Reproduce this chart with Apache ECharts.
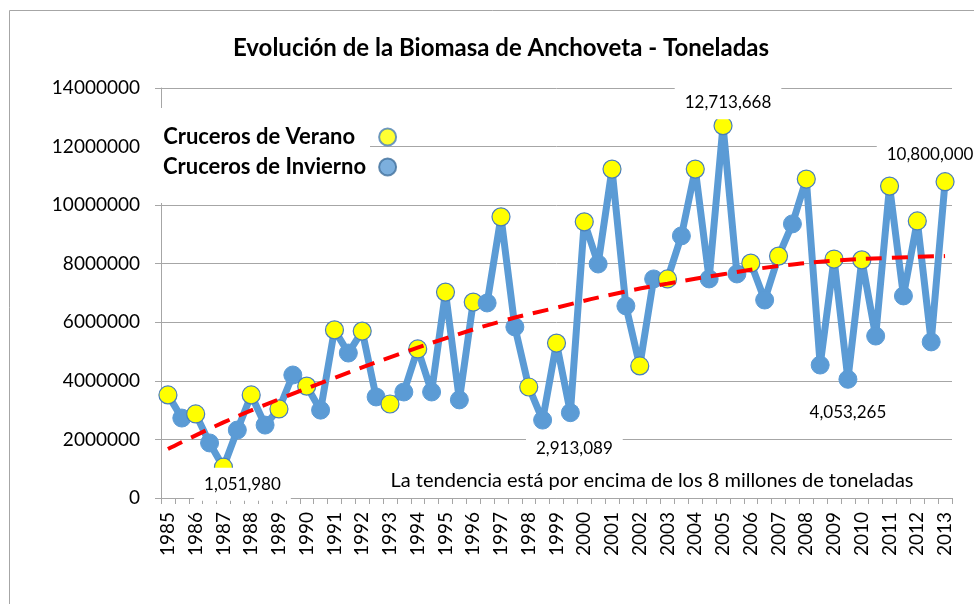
<!DOCTYPE html>
<html>
<head>
<meta charset="utf-8">
<title>Evolución de la Biomasa de Anchoveta</title>
<script src="https://cdn.jsdelivr.net/npm/echarts@6/dist/echarts.min.js"></script>
<style>
    html, body { margin: 0; padding: 0; background: #fff; }
    #chart { width: 974px; height: 604px; }
</style>
</head>
<body>
<div id="chart"></div>
<script>
var anios = ['1985', '1986', '1987', '1988', '1989', '1990', '1991', '1992', '1993', '1994',
    '1995', '1996', '1997', '1998', '1999', '2000', '2001', '2002', '2003', '2004',
    '2005', '2006', '2007', '2008', '2009', '2010', '2011', '2012', '2013'];

// cruceros de verano (un valor por año)
var verano = [3520000, 2870000, 1051980, 3520000, 3040000, 3820000, 5740000, 5700000, 3210000, 5090000,
    7030000, 6690000, 9600000, 3790000, 5290000, 9430000, 11230000, 4510000, 7480000, 11230000,
    12713668, 8020000, 8260000, 10890000, 8160000, 8130000, 10650000, 9460000, 10800000];

// cruceros de invierno (1985 - 2012)
var invierno = [2730000, 1880000, 2320000, 2490000, 4200000, 3000000, 4950000, 3450000, 3620000, 3620000,
    3350000, 6660000, 5840000, 2660000, 2913089, 7990000, 6560000, 7480000, 8950000, 7480000,
    7650000, 6760000, 9360000, 4540000, 4053265, 5530000, 6900000, 5330000];

// línea de tendencia leída cada 4 cruceros
var tendencia = [1670000, 2580000, 3370000, 4100000, 4800000, 5450000, 6030000, 6500000,
    6950000, 7320000, 7640000, 7920000, 8100000, 8200000, 8260000];

var yMax = 14000000;
var yPaso = 2000000;

var fuente = 'Lato, "Open Sans", sans-serif';
var azul = '#5B9BD5';
var amarillo = '#FFFF00';

var categorias = [];
var serie = [];
anios.forEach(function (anio, i) {
    categorias.push(anio);
    serie.push({ value: verano[i], itemStyle: { color: amarillo, borderColor: '#4A7EBB', borderWidth: 1.2 } });
    if (invierno[i] !== undefined) {
        categorias.push('');
        serie.push({ value: invierno[i], itemStyle: { color: azul, borderColor: azul, borderWidth: 1 } });
    }
});

// etiquetas con valor en algunos puntos
var destacados = { 4: [19, 17], 29: [4, 36], 40: [5, -23], 49: [0, 33], 56: [-15, -27] };
Object.keys(destacados).forEach(function (k) {
    serie[k].label = {
        show: true,
        position: 'inside',
        offset: destacados[k],
        formatter: function (p) { return echarts.format.addCommas(p.value); },
        fontFamily: fuente,
        fontSize: 17,
        color: '#000',
        backgroundColor: '#fff',
        padding: [8, 10]
    };
});

var chart = echarts.init(document.getElementById('chart'));
chart.setOption({
    animation: false,
    title: {
        text: 'Evolución de la Biomasa de Anchoveta - Toneladas',
        left: 496,
        textAlign: 'center',
        top: 31,
        textStyle: { fontFamily: fuente, fontWeight: 'bold', fontSize: 24, color: '#000' }
    },
    legend: {
        orient: 'vertical',
        left: 158,
        top: 121,
        align: 'right',
        itemGap: 8,
        itemWidth: 17,
        itemHeight: 17,
        icon: 'circle',
        textStyle: { fontFamily: fuente, fontWeight: 'bold', fontSize: 22, color: '#000' },
        data: [
            { name: 'Cruceros de Verano', textStyle: { padding: [0, 19, 0, 0] } },
            { name: 'Cruceros de Invierno', textStyle: { padding: [0, 8, 0, 0] } }
        ]
    },
    grid: { left: 161, right: 22, top: 88, bottom: 106 },
    xAxis: {
        type: 'category',
        data: categorias,
        boundaryGap: true,
        axisLine: { lineStyle: { color: '#A6A6A6' } },
        axisTick: { show: true, interval: 0, length: 6, lineStyle: { color: '#A6A6A6' } },
        axisLabel: { interval: 0, rotate: 90, margin: 14, fontFamily: fuente, fontSize: 19, color: '#000' },
        splitLine: { show: false }
    },
    yAxis: {
        type: 'value',
        min: 0,
        max: yMax,
        interval: yPaso,
        axisLine: { show: true, lineStyle: { color: '#A6A6A6' } },
        axisTick: { show: true, length: 6, lineStyle: { color: '#A6A6A6' } },
        axisLabel: {
            margin: 21, fontFamily: fuente, fontSize: 19, color: '#000',
            formatter: function (v) { return String(v); }
        },
        splitLine: { lineStyle: { color: '#A6A6A6' } }
    },
    graphic: [
        { type: 'rect', z: 1, shape: { x: 150, y: 108, width: 220, height: 95 }, style: { fill: '#fff' } },
        { type: 'rect', z: 1, shape: { x: 9.5, y: 10.5, width: 1000, height: 700 }, style: { fill: 'none', stroke: '#A6A6A6', lineWidth: 1 } },
        {
            type: 'text', z: 3, x: 652, y: 481,
            style: {
                text: 'La tendencia está por encima de los 8 millones de toneladas',
                align: 'center', verticalAlign: 'middle',
                fontFamily: fuente, fontSize: 20, fill: '#000'
            }
        }
    ],
    series: [
        {
            name: 'Biomasa',
            type: 'line',
            data: serie,
            symbol: 'circle',
            symbolSize: 18,
            lineStyle: { color: azul, width: 7, join: 'round' },
            z: 3
        },
        {
            name: 'Tendencia',
            type: 'line',
            data: tendencia.map(function (v, k) { return [k * 4, v]; }),
            smooth: true,
            symbol: 'none',
            lineStyle: { color: '#FF0000', width: 4, type: [16, 10] },
            z: 4
        },
        { name: 'Cruceros de Verano', type: 'scatter', data: [], itemStyle: { color: amarillo, borderColor: '#4A7EBB', borderWidth: 1.5 } },
        { name: 'Cruceros de Invierno', type: 'scatter', data: [], itemStyle: { color: azul, borderColor: '#41719C', borderWidth: 1.5 } }
    ]
});
</script>
</body>
</html>
